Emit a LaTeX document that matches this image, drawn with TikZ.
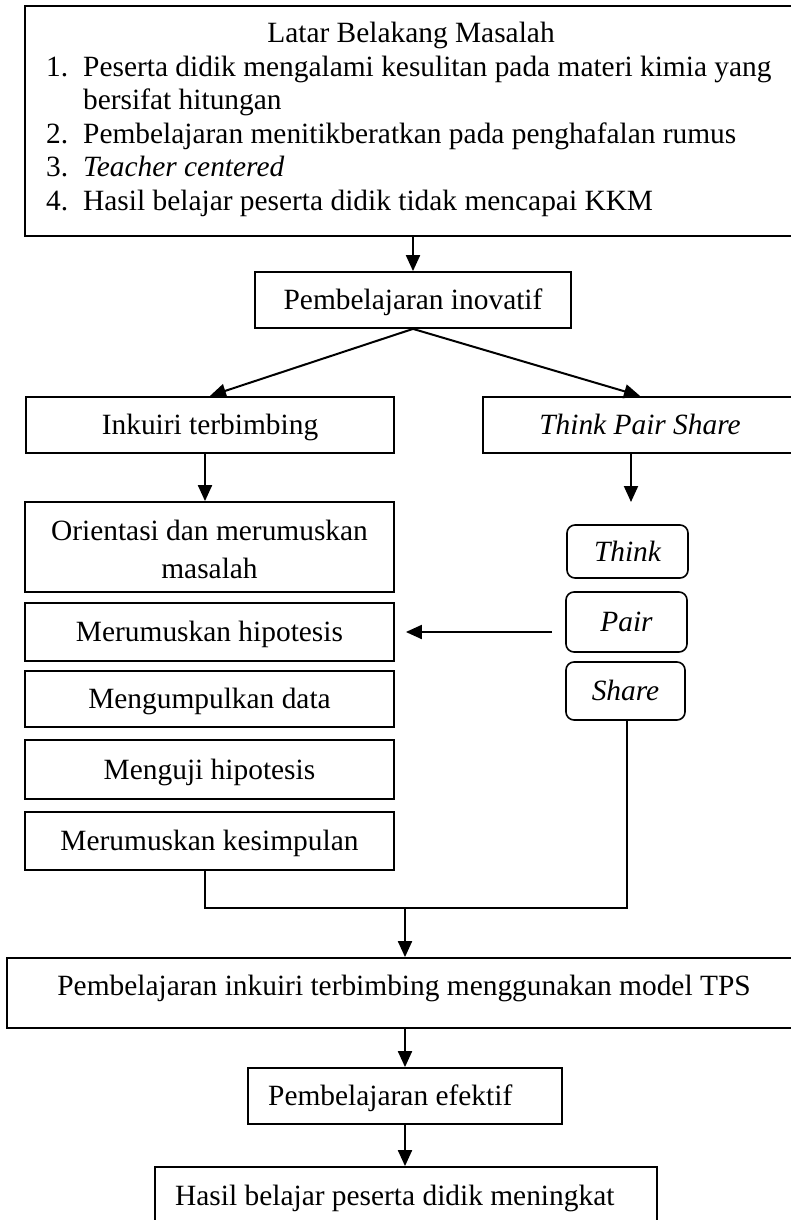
\documentclass[tikz,border=0pt]{standalone}
\usepackage{fontspec}
\setmainfont{Liberation Serif}
\usetikzlibrary{arrows.meta}
\begin{document}
\begin{tikzpicture}[x=1pt,y=-1pt,
  font=\fontsize{29.4}{33.4}\selectfont,
  box/.style={draw, line width=1.8pt, inner sep=0pt, minimum width=#1, text height=20pt, text depth=0.6pt},
  rbox/.style={box=#1, rounded corners=8pt, line width=1.6pt},
  txt/.style={inner sep=0pt, anchor=base},
  ltxt/.style={inner sep=0pt, anchor=base west},
  arr/.style={-{Triangle[length=16pt,width=14pt]}, line width=2pt},
  link/.style={line width=1.8pt}]
\useasboundingbox (0,0) rectangle (791,1220);
% top box
\node[box=775, minimum height=230, line width=2.2pt] (top) at (412.5,121) {};
\node[txt] (title) at (411,43) {Latar Belakang Masalah};
\node[ltxt] (n1) at (46,77) {1.};
\node[ltxt] (t1) at (83,77) {Peserta didik mengalami kesulitan pada materi kimia yang};
\node[ltxt] (t1b) at (83,110) {bersifat hitungan};
\node[ltxt] (n2) at (46,143) {2.};
\node[ltxt] (t2) at (83,143) {Pembelajaran menitikberatkan pada penghafalan rumus};
\node[ltxt] (n3) at (46,176) {3.};
\node[ltxt] (t3) at (83,176) {\itshape Teacher centered};
\node[ltxt] (n4) at (46,210) {4.};
\node[ltxt] (t4) at (83,210) {Hasil belajar peserta didik tidak mencapai KKM};
% second level
\node[box=316, minimum height=56] (inov) at (413,300) {Pembelajaran inovatif};
\node[box=368, minimum height=56, line width=2.2pt] (ink) at (210,425) {Inkuiri terbimbing};
\node[box=314, minimum height=56, line width=2.2pt] (tps) at (640,425) {\itshape Think Pair Share};
% left column
\node[box=369, minimum height=90] (ori) at (209.5,547) {};
\node[txt] (orit1) at (209.5,540) {Orientasi dan merumuskan};
\node[txt] (orit2) at (209.5,578) {masalah};
\node[box=369, minimum height=58] (hip) at (209.5,632) {Merumuskan hipotesis};
\node[box=369, minimum height=56] (kum) at (209.5,699) {Mengumpulkan data};
\node[box=369, minimum height=59] (uji) at (209.5,769.5) {Menguji hipotesis};
\node[box=369, minimum height=58] (kes) at (209.5,841) {Merumuskan kesimpulan};
% right column
\node[rbox=121, minimum height=53] (think) at (627.5,551.5) {\itshape Think};
\node[rbox=121, minimum height=60] (pair) at (626.5,622) {\itshape Pair};
\node[rbox=119, minimum height=58] (share) at (625.5,691) {\itshape Share};
% lower boxes
\node[box=790, minimum height=70] (model) at (402,993) {};
\node[txt] (modelt) at (404,995) {Pembelajaran inkuiri terbimbing menggunakan model TPS};
\node[box=314, minimum height=56] (efek) at (405,1096) {};
\node[ltxt] (efekt) at (268,1105) {Pembelajaran efektif};
\node[box=502, minimum height=83] (hasil) at (406,1208.5) {};
\node[ltxt] (hasilt) at (175,1205) {Hasil belajar peserta didik meningkat};
% connectors
\coordinate (tpsend) at (631,502);
\coordinate (join) at (405,908);
\draw[arr] (top.south -| inov.north) -- (inov.north);
\draw[arr] (inov.south) -- (ink.north);
\draw[arr] (inov.south) -- (tps.north);
\draw[arr] ([xshift=-5pt]ink.south) -- ([xshift=-5pt]ink.south |- ori.north);
\draw[arr] (tps.south -| tpsend) -- (tpsend);
\draw[arr] ([xshift=-13pt]pair.west |- hip.east) -- ([xshift=11pt]hip.east);
\draw[link] ([xshift=-4.5pt]kes.south) |- ([xshift=1.5pt]share.south |- join) -- ([xshift=1.5pt]share.south);
\draw[arr] (join) -- (join |- model.north);
\draw[arr] (model.south -| join) -- (efek.north -| join);
\draw[arr] (efek.south -| join) -- (hasil.north -| join);
\end{tikzpicture}
\end{document}
